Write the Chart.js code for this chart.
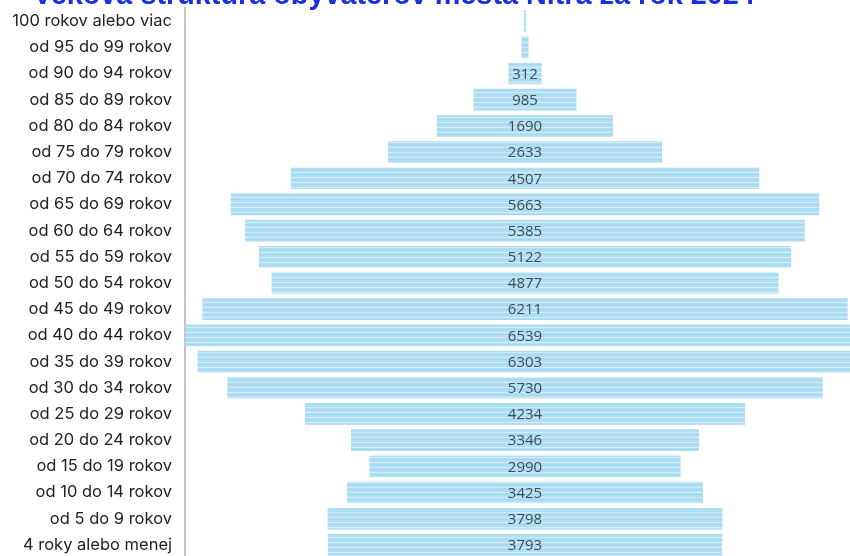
<!DOCTYPE html>
<html lang="sk">
  <head>
    <meta charset="UTF-8" />
    <title>Veková štruktúra obyvateľov mesta Nitra za rok 2024</title>
    <script src="https://cdn.jsdelivr.net/npm/chart.js"></script>
    <style>
      body {
        margin: 0;
        padding: 0;
        background: #fff;
        overflow: hidden;
      }
      .chart-wrap {
        position: relative;
        width: 850px;
        height: 562px;
      }
    </style>
  </head>
  <body>
    <div class="chart-wrap">
      <canvas id="ageChart"></canvas>
    </div>

    <script>
      const titleText = "Veková štruktúra obyvateľov mesta Nitra za rok 2024";

      // top row = oldest group
      const ageGroups = [
        "100 rokov alebo viac",
        "od 95 do 99 rokov",
        "od 90 do 94 rokov",
        "od 85 do 89 rokov",
        "od 80 do 84 rokov",
        "od 75 do 79 rokov",
        "od 70 do 74 rokov",
        "od 65 do 69 rokov",
        "od 60 do 64 rokov",
        "od 55 do 59 rokov",
        "od 50 do 54 rokov",
        "od 45 do 49 rokov",
        "od 40 do 44 rokov",
        "od 35 do 39 rokov",
        "od 30 do 34 rokov",
        "od 25 do 29 rokov",
        "od 20 do 24 rokov",
        "od 15 do 19 rokov",
        "od 10 do 14 rokov",
        "od 5 do 9 rokov",
        "4 roky alebo menej",
      ];

      const population = [
        15, 62, 312, 985, 1690, 2633, 4507, 5663, 5385, 5122, 4877, 6211,
        6539, 6303, 5730, 4234, 3346, 2990, 3425, 3798, 3793,
      ];

      // x range (bars are centred on 0, right side runs off the picture)
      const xMin = -3276;
      const xMax = 3131;
      const labelMin = 200; // smaller bars get no number

      // bars are drawn symmetric around zero
      const barRanges = population.map((v) => [-v / 2, v / 2]);

      function stripePattern() {
        const c = document.createElement("canvas");
        c.width = 8;
        c.height = 5;
        const g = c.getContext("2d");
        g.fillStyle = "#b0def2";
        g.fillRect(0, 0, 8, 5);
        g.fillStyle = "#d0ecf8";
        g.fillRect(0, 2, 8, 1);
        g.fillStyle = "#a6d8ee";
        g.fillRect(0, 4, 8, 1);
        return g.createPattern(c, "repeat");
      }

      const topTitle = {
        id: "topTitle",
        beforeDraw(chart) {
          const ctx = chart.ctx;
          ctx.save();
          ctx.font = "bold 24px 'Liberation Sans', Arial, sans-serif";
          const w = ctx.measureText(titleText).width;
          const size = 24 * (722 / w);
          ctx.font = `bold ${size}px 'Liberation Sans', Arial, sans-serif`;
          ctx.fillStyle = "#1a30dc";
          ctx.textAlign = "center";
          ctx.textBaseline = "alphabetic";
          ctx.fillText(titleText, 394, 4);
          ctx.restore();
        },
      };

      const barValues = {
        id: "barValues",
        afterDatasetsDraw(chart) {
          const ctx = chart.ctx;
          const meta = chart.getDatasetMeta(0);
          ctx.save();
          ctx.font = "15px 'Open Sans', sans-serif";
          ctx.fillStyle = "#3e4b56";
          ctx.textAlign = "center";
          ctx.textBaseline = "middle";
          meta.data.forEach((bar, i) => {
            if (population[i] < labelMin) return;
            const p = bar.getProps(["x", "y", "base"], true);
            ctx.fillText(String(population[i]), (p.x + p.base) / 2, p.y + 1);
          });
          ctx.restore();
        },
      };

      const ctx = document.getElementById("ageChart").getContext("2d");
      new Chart(ctx, {
        type: "bar",
        data: {
          labels: ageGroups,
          datasets: [
            {
              label: "Počet obyvateľov",
              data: barRanges,
              backgroundColor: stripePattern(),
              borderWidth: 0,
              borderSkipped: false,
              barThickness: 21,
            },
          ],
        },
        options: {
          indexAxis: "y",
          responsive: true,
          maintainAspectRatio: false,
          animation: false,
          layout: { padding: { top: 8, bottom: 4, left: 0, right: 0 } },
          scales: {
            x: {
              display: false,
              min: xMin,
              max: xMax,
            },
            y: {
              grid: {
                display: true,
                drawOnChartArea: false,
                drawTicks: false,
                color: "rgba(0,0,0,0)",
              },
              border: { display: true, color: "#c3c3c3", width: 2 },
              ticks: {
                color: "#222",
                padding: 13,
                font: { family: "Inter", size: 16.5 },
              },
              afterFit: (scale) => {
                scale.width = 185;
                scale.paddingTop = 0;
                scale.paddingBottom = 0;
              },
            },
          },
          plugins: {
            legend: { display: false },
            title: { display: false },
            tooltip: { enabled: false },
          },
        },
        plugins: [topTitle, barValues],
      });
    </script>
  </body>
</html>
